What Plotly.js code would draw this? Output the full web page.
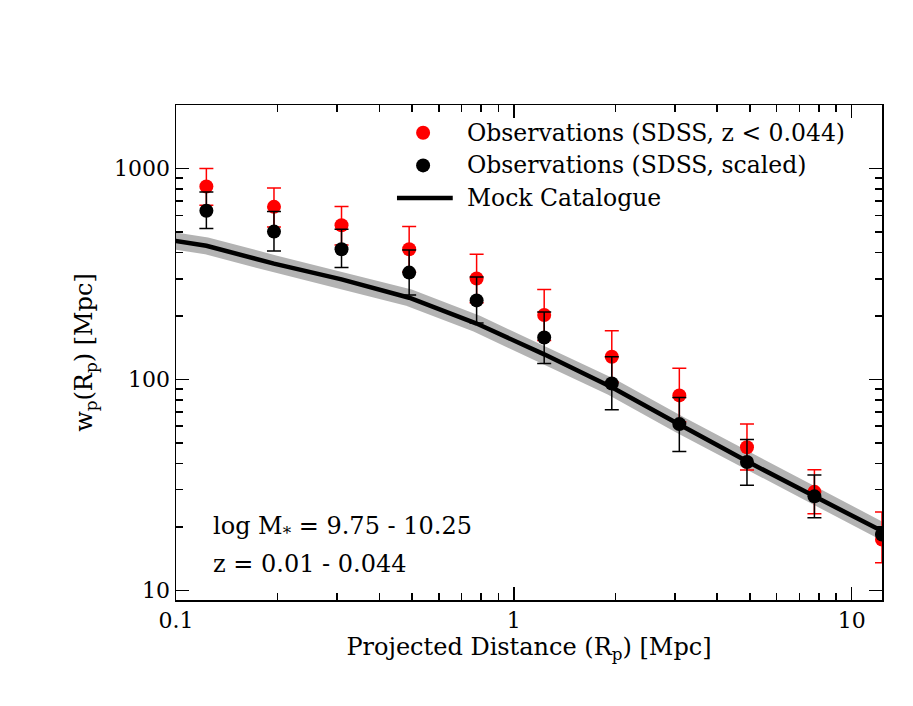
<!DOCTYPE html>
<html>
<head>
<meta charset="utf-8">
<script src="https://cdn.plot.ly/plotly-3.0.1.min.js"></script>
<style>
  html, body { margin: 0; padding: 0; background: #fff; }
  #chart { width: 913px; height: 706px; }
</style>
</head>
<body>
<div id="chart"></div>
<script>
// projected distance bins (Mpc)
var rp = [0.123, 0.195, 0.309, 0.49, 0.776, 1.23, 1.95, 3.09, 4.9, 7.76, 12.3];

// SDSS, z < 0.044
var obsW  = [822, 658, 538, 414, 301, 202, 128, 84, 47.7, 29.3, 17.4];
var obsHi = [1000, 809, 661, 531, 392, 267, 170, 113, 61.4, 37.3, 23.5];
var obsLo = [670, 528, 434, 323, 231, 153, 97, 63, 37.2, 23.1, 13.5];

// SDSS, scaled
var scaledW  = [630, 502, 414, 321, 237, 158, 95.7, 61.4, 40.6, 27.9, 18.4];
var scaledHi = [774, 625, 515, 411, 306, 209, 128, 82, 51.9, 35.2, null];
var scaledLo = [519, 406, 339, 251, 185, 119, 71.8, 45.5, 31.5, 22.1, null];

// mock catalogue
var mockR = [0.0776, 0.123, 0.195, 0.309, 0.49, 0.776, 1.23, 1.95, 3.09, 4.9, 7.76, 12.3];
var mockW = [483, 430, 354, 298, 244, 184, 131.5, 91.9, 61.1, 40.9, 27.9, 19.1];

var legendNames = ['Observations (SDSS, z &lt; 0.044)', 'Observations (SDSS, scaled)', 'Mock Catalogue'];
var legendColors = ['#ff0000', '#000000', '#000000'];
var infoLines = ['log M<sub>*</sub> = 9.75 - 10.25', 'z = 0.01 - 0.044'];

var serif = "'DejaVu Serif', 'Liberation Serif', 'Times New Roman', serif";
var fs = 24;

function up(v, hi) { return v.map(function (d, i) { return hi[i] == null ? null : hi[i] - d; }); }
function down(v, lo) { return v.map(function (d, i) { return lo[i] == null ? null : d - lo[i]; }); }

var band = {
	x: mockR, y: mockW,
	type: 'scatter', mode: 'lines',
	line: { color: '#b3b3b3', width: 17 },
	hoverinfo: 'skip'
};

var obs = {
	x: rp, y: obsW,
	type: 'scatter', mode: 'markers',
	name: legendNames[0],
	marker: { color: legendColors[0], size: 14 },
	error_y: { type: 'data', symmetric: false, array: up(obsW, obsHi), arrayminus: down(obsW, obsLo),
		color: legendColors[0], thickness: 1.5, width: 7 }
};

var scaled = {
	x: rp, y: scaledW,
	type: 'scatter', mode: 'markers',
	name: legendNames[1],
	marker: { color: legendColors[1], size: 14 },
	error_y: { type: 'data', symmetric: false, array: up(scaledW, scaledHi), arrayminus: down(scaledW, scaledLo),
		color: legendColors[1], thickness: 1.5, width: 7 }
};

var mock = {
	x: mockR, y: mockW,
	type: 'scatter', mode: 'lines',
	name: legendNames[2],
	line: { color: legendColors[2], width: 4.5 }
};

var axisStyle = {
	type: 'log',
	showline: true, linecolor: '#000', linewidth: 1.5,
	mirror: 'allticks',
	ticks: 'inside', ticklen: 13, tickwidth: 1.5, tickcolor: '#000',
	showgrid: false, zeroline: false,
	tickfont: { family: serif, size: 22, color: '#000' },
	minor: { ticks: 'inside', ticklen: 7, tickwidth: 1.5, tickcolor: '#000', dtick: 'D1', showgrid: false }
};

// legend drawn by hand so rows sit as close as in the original
var legX = 0.35, legTextX = 0.41, legY = [0.944, 0.878, 0.812];
var shapes = [0, 1].map(function (i) {
	return { type: 'circle', xref: 'paper', yref: 'paper', xsizemode: 'pixel', ysizemode: 'pixel',
		xanchor: legX, yanchor: legY[i], x0: -7, x1: 7, y0: -7, y1: 7,
		fillcolor: legendColors[i], line: { width: 0 } };
});
shapes.push({ type: 'line', xref: 'paper', yref: 'paper', x0: 0.313, x1: 0.392, y0: legY[2], y1: legY[2],
	line: { color: legendColors[2], width: 4.5 } });

var annotations = legendNames.map(function (t, i) {
	return { xref: 'paper', yref: 'paper', x: legTextX, y: legY[i], xanchor: 'left', yanchor: 'middle',
		showarrow: false, text: t, font: { family: serif, size: 23.5, color: '#000' } };
});
var infoY = [0.111, 0.04];
infoLines.forEach(function (t, i) {
	annotations.push({
		xref: 'paper', yref: 'paper', x: 0.05, y: infoY[i],
		xanchor: 'left', yanchor: 'bottom', align: 'left', showarrow: false,
		text: t, font: { family: serif, size: fs, color: '#000' }
	});
});

var layout = {
	width: 913, height: 706,
	margin: { l: 176, r: 31, t: 105, b: 106 },
	paper_bgcolor: '#fff', plot_bgcolor: '#fff',
	font: { family: serif, size: fs, color: '#000' },
	showlegend: false,
	xaxis: Object.assign({}, axisStyle, {
		range: [-1, Math.log10(12.3)],
		tickmode: 'array', tickvals: [0.1, 1, 10], ticktext: ['0.1', '1', '10'],
		title: { text: 'Projected Distance (R<sub>p</sub>) [Mpc]', font: { family: serif, size: fs }, standoff: 2 }
	}),
	yaxis: Object.assign({}, axisStyle, {
		range: [Math.log10(9), Math.log10(2000)],
		tickmode: 'array', tickvals: [10, 100, 1000], ticktext: ['10', '100', '1000'],
		title: { text: 'w<sub>p</sub>(R<sub>p</sub>) [Mpc]', font: { family: serif, size: fs }, standoff: 14 }
	}),
	shapes: shapes,
	annotations: annotations
};

Plotly.newPlot('chart', [band, obs, scaled, mock], layout, { displayModeBar: false, staticPlot: true });
</script>
</body>
</html>
